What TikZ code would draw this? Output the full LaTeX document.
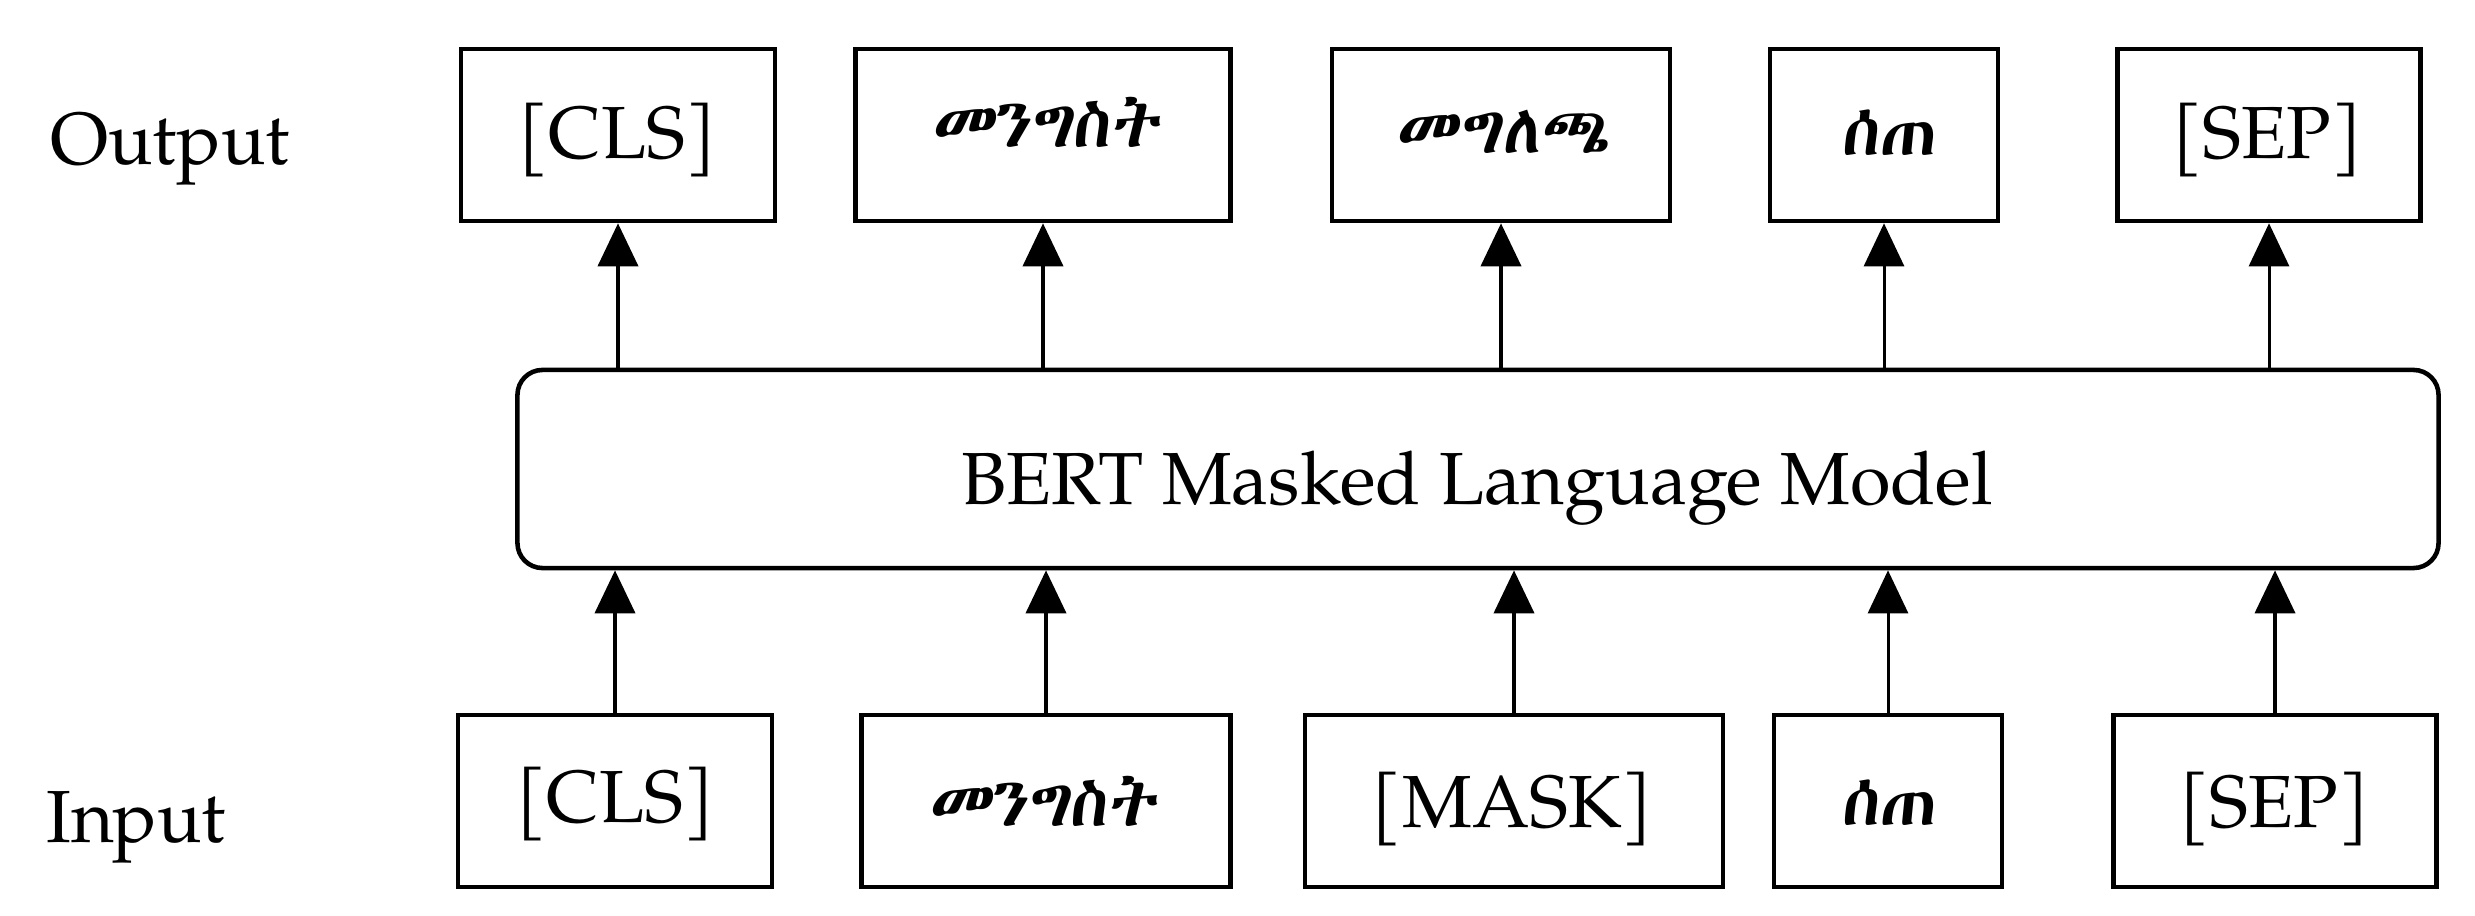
\documentclass[tikz,border=0pt]{standalone}
\usepackage{fontspec}
\usetikzlibrary{arrows.meta}
\IfFontExistsTF{TeX Gyre Pagella}
  {\newfontfamily\palfont{TeX Gyre Pagella}}
  {\newfontfamily\palfont{Liberation Serif}}
\newfontfamily\ethfont[FakeSlant=0.1]{Abyssinica SIL}
\tikzset{
  tokbox/.style={draw, line width=1.3pt, inner sep=0pt, minimum height=1.72cm},
  lattxt/.style={font=\palfont\fontsize{21}{25}\selectfont, inner sep=0pt},
  ethtxt/.style={font=\ethfont\fontsize{19.5}{23}\selectfont, inner sep=0pt},
  bertbox/.style={draw, line width=1.3pt, rounded corners=0.25cm, inner sep=0pt},
  upar/.style={line width=1.1pt, -{Triangle[length=0.43cm,width=0.40cm]}},
  thinar/.style={line width=0.85pt, -{Triangle[length=0.43cm,width=0.40cm]}}
}
\begin{document}
\begin{tikzpicture}[x=0.01cm,y=-0.01cm]
\useasboundingbox (0,0) rectangle (2475,916);
% side labels
\node[lattxt, anchor=base] (outlbl) at (170,165) {Output};
\node[lattxt, anchor=base] (inlbl) at (136,843) {Input};
% output boxes
\node[tokbox, minimum width=3.14cm] (o1) at (618,135) {};
\node[tokbox, minimum width=3.75cm] (o2) at (1043,135) {};
\node[tokbox, minimum width=3.38cm] (o3) at (1501,135) {};
\node[tokbox, minimum width=2.28cm] (o4) at (1884,135) {};
\node[tokbox, minimum width=3.03cm] (o5) at (2269,135) {};
\node[lattxt] (o1t) at (617,140) {[CLS]};
\node[ethtxt] (o2t) at (1046,122) {መንግስት};
\node[ethtxt] (o3t) at (1503,132) {መግለጫ};
\node[ethtxt] (o4t) at (1888,133) {ሰጠ};
\node[lattxt] (o5t) at (2267,140) {[SEP]};
% BERT
\node[bertbox, minimum width=19.2cm, minimum height=1.98cm] (bert) at (1478,469) {};
\node[lattxt, anchor=base] (bertt) at (1477,505) {BERT Masked Language Model};
% input boxes
\node[tokbox, minimum width=3.14cm] (i1) at (615,801) {};
\node[tokbox, minimum width=3.69cm] (i2) at (1046,801) {};
\node[tokbox, minimum width=4.18cm] (i3) at (1514,801) {};
\node[tokbox, minimum width=2.28cm] (i4) at (1888,801) {};
\node[tokbox, minimum width=3.23cm] (i5) at (2275,801) {};
\node[lattxt] (i1t) at (615,804) {[CLS]};
\node[ethtxt] (i2t) at (1043,801) {መንግስት};
\node[lattxt] (i3t) at (1512,809) {[MASK]};
\node[ethtxt] (i4t) at (1888,803) {ሰጠ};
\node[lattxt] (i5t) at (2274,809) {[SEP]};
% arrows input -> BERT
\draw[upar] (i1.north) -- (i1.north |- bert.south);
\draw[upar] (i2.north) -- (i2.north |- bert.south);
\draw[upar] (i3.north) -- (i3.north |- bert.south);
\draw[thinar] (i4.north) -- (i4.north |- bert.south);
\draw[upar] (i5.north) -- (i5.north |- bert.south);
% arrows BERT -> output
\draw[upar] (o1.south |- bert.north) -- (o1.south);
\draw[upar] (o2.south |- bert.north) -- (o2.south);
\draw[upar] (o3.south |- bert.north) -- (o3.south);
\draw[thinar] (o4.south |- bert.north) -- (o4.south);
\draw[thinar] (o5.south |- bert.north) -- (o5.south);
\end{tikzpicture}
\end{document}
